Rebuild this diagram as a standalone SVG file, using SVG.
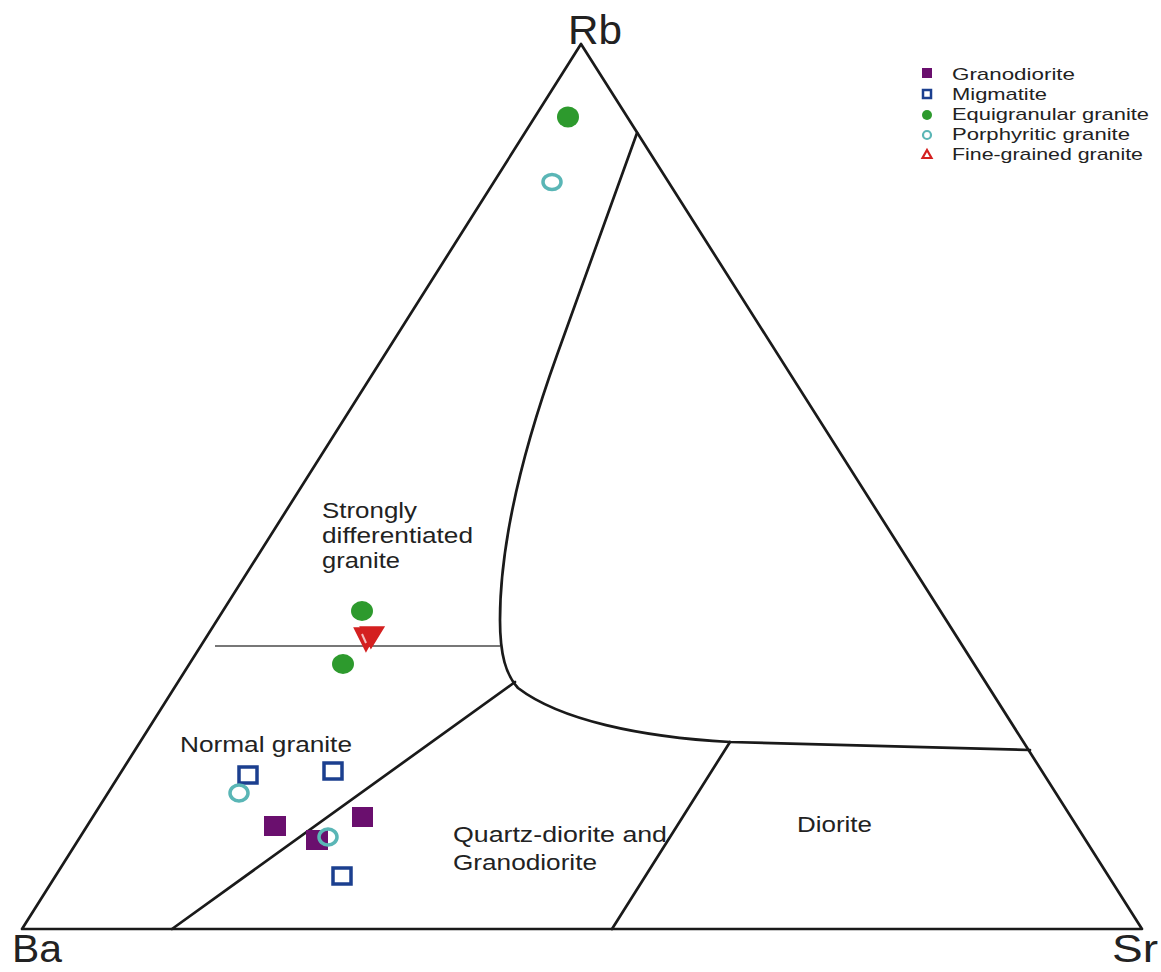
<svg xmlns="http://www.w3.org/2000/svg" width="1161" height="972" viewBox="0 0 1161 972">
<style>
.ln{fill:none;stroke:#1a1a1a;stroke-width:2.7;stroke-linejoin:round;stroke-linecap:round}
.hz{fill:none;stroke:#777;stroke-width:2}
.t{font-family:"Liberation Sans",Arial,sans-serif;fill:#222}
.ax{font-size:40px}
.ax2{font-size:38px}
.lb{font-size:22px}
.lg{font-size:17px}
.gd{fill:#6a0f6e}
.mg{fill:none;stroke:#1b3f8f;stroke-width:3.5}
.eq{fill:#2d9a2d}
.pg{fill:none;stroke:#5ab6b6;stroke-width:3.5}
.fg{stroke:#d42020;stroke-width:3.5;stroke-linejoin:miter}
</style>
<rect width="1161" height="972" fill="#fff"/>
<g id="frame">
<polygon class="ln" points="581,44 22,929 1142,929"/>
</g>
<g id="boundaries">
<path class="ln" d="M637,133 L557,355 C525,444 500,540 500,620 C500,655 506,675 518,688 C560,720 640,737 730,742 L1030,750"/>
<line class="ln" x1="172" y1="929" x2="515" y2="682"/>
<line class="ln" x1="612" y1="929" x2="730" y2="742"/>
<line class="hz" x1="215" y1="646" x2="500" y2="646"/>
</g>
<g id="axis-labels">
<text class="t ax" x="568" y="44" textLength="54" lengthAdjust="spacingAndGlyphs">Rb</text>
<text class="t ax2" x="12" y="962" textLength="50" lengthAdjust="spacingAndGlyphs">Ba</text>
<text class="t ax2" x="1112" y="962" textLength="46" lengthAdjust="spacingAndGlyphs">Sr</text>
</g>
<g id="field-labels">
<text class="t lb" x="322" y="518" textLength="95" lengthAdjust="spacingAndGlyphs">Strongly</text>
<text class="t lb" x="322" y="543" textLength="151" lengthAdjust="spacingAndGlyphs">differentiated</text>
<text class="t lb" x="322" y="568" textLength="78" lengthAdjust="spacingAndGlyphs">granite</text>
<text class="t lb" x="180" y="752" textLength="172" lengthAdjust="spacingAndGlyphs">Normal granite</text>
<text class="t lb" x="453" y="842" textLength="214" lengthAdjust="spacingAndGlyphs">Quartz-diorite and</text>
<text class="t lb" x="453" y="870" textLength="144" lengthAdjust="spacingAndGlyphs">Granodiorite</text>
<text class="t lb" x="797" y="832" textLength="75" lengthAdjust="spacingAndGlyphs">Diorite</text>
</g>
<g id="data-points">
<ellipse class="eq" cx="568" cy="117" rx="11" ry="10.5"/>
<ellipse class="pg" cx="552" cy="182" rx="9" ry="7.5"/>
<ellipse class="eq" cx="362" cy="611" rx="11" ry="10"/>
<ellipse class="eq" cx="343" cy="664" rx="11" ry="10"/>
<polygon class="fg" points="356,629 377,629 366,649" fill="#d42020"/>
<polygon class="fg" points="362,628 382,628 371,646" fill="#d42020"/>
<line x1="362" y1="634" x2="366" y2="643" stroke="#f4c0c0" stroke-width="2"/>
<rect class="mg" x="239" y="767" width="18" height="16"/>
<rect class="mg" x="324" y="763" width="18" height="16"/>
<ellipse class="pg" cx="239" cy="793" rx="9" ry="8"/>
<rect class="gd" x="264" y="816" width="22" height="20"/>
<rect class="gd" x="352" y="807" width="21" height="20"/>
<rect class="gd" x="306" y="830" width="22" height="20"/>
<ellipse class="pg" cx="328" cy="837" rx="9" ry="8"/>
<rect class="mg" x="333" y="868" width="18" height="16"/>
</g>
<g id="legend">
<rect class="gd" x="922" y="68" width="10" height="10"/>
<text class="t lg" x="952" y="80" textLength="123" lengthAdjust="spacingAndGlyphs">Granodiorite</text>
<rect x="923" y="90" width="8" height="8" fill="none" stroke="#1b3f8f" stroke-width="2.5"/>
<text class="t lg" x="952" y="100" textLength="95" lengthAdjust="spacingAndGlyphs">Migmatite</text>
<circle class="eq" cx="927" cy="115" r="5"/>
<text class="t lg" x="952" y="120" textLength="197" lengthAdjust="spacingAndGlyphs">Equigranular granite</text>
<circle cx="927" cy="135" r="4" fill="none" stroke="#5ab6b6" stroke-width="2.2"/>
<text class="t lg" x="952" y="140" textLength="178" lengthAdjust="spacingAndGlyphs">Porphyritic granite</text>
<polygon points="927,150 931.5,158 922.5,158" fill="none" stroke="#d42020" stroke-width="2.2"/>
<text class="t lg" x="952" y="160" textLength="191" lengthAdjust="spacingAndGlyphs">Fine-grained granite</text>
</g>
</svg>
